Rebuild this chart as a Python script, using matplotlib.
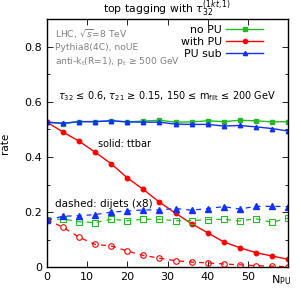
import matplotlib
matplotlib.use("Agg")
import matplotlib.pyplot as plt
from matplotlib.ticker import MultipleLocator

npu = [0, 4, 8, 12, 16, 20, 24, 28, 32, 36, 40, 44, 48, 52, 56, 60]

tt_nopu = [0.526, 0.521, 0.528, 0.528, 0.531, 0.527, 0.530, 0.533, 0.526, 0.527, 0.531, 0.528, 0.533, 0.531, 0.527, 0.528]
tt_withpu = [0.526, 0.490, 0.457, 0.417, 0.375, 0.324, 0.282, 0.236, 0.196, 0.158, 0.125, 0.092, 0.071, 0.053, 0.041, 0.029]
tt_pusub = [0.526, 0.522, 0.528, 0.528, 0.531, 0.527, 0.526, 0.526, 0.519, 0.518, 0.518, 0.512, 0.514, 0.509, 0.503, 0.494]

dj_nopu = [0.172, 0.175, 0.165, 0.162, 0.174, 0.169, 0.174, 0.174, 0.169, 0.169, 0.173, 0.174, 0.168, 0.176, 0.163, 0.178]
dj_withpu = [0.172, 0.145, 0.109, 0.083, 0.077, 0.059, 0.043, 0.033, 0.024, 0.019, 0.016, 0.012, 0.009, 0.006, 0.004, 0.002]
dj_pusub = [0.172, 0.185, 0.187, 0.191, 0.200, 0.204, 0.208, 0.208, 0.213, 0.207, 0.213, 0.220, 0.211, 0.221, 0.221, 0.220]

green = "#22bb22"
red = "#ff0000"
blue = "#1030ff"

fig = plt.figure(figsize=(3.01, 2.91), dpi=100)
ax = fig.add_axes([47/301, 1-267.3/291, (288-47)/301, (267.3-19)/291])

ms = 3.2
l1, = ax.plot(npu, tt_nopu, '-', color=green, marker='s', ms=ms, lw=1, label='no PU')
l2, = ax.plot(npu, tt_withpu, '-', color=red, marker='o', ms=ms, lw=1, label='with PU')
l3, = ax.plot(npu, tt_pusub, '-', color=blue, marker='^', ms=ms, lw=1, label='PU sub')
ax.plot(npu, dj_nopu, '--', color=green, marker='s', ms=4, mfc='none', mew=0.8, lw=0.9, dashes=(4, 4))
ax.plot(npu, dj_withpu, '--', color=red, marker='o', ms=4, mfc='none', mew=0.8, lw=0.9, dashes=(4, 4))
ax.plot(npu, dj_pusub, '--', color=blue, marker='^', ms=4.2, lw=0.9, dashes=(4, 4))

ax.set_xlim(0, 60)
ax.set_ylim(0, 0.9)
ax.set_xticks([0, 10, 20, 30, 40, 50])
ax.set_yticks([0, 0.2, 0.4, 0.6, 0.8])
ax.set_yticklabels(['0', '0.2', '0.4', '0.6', '0.8'])
ax.yaxis.set_minor_locator(MultipleLocator(0.1))
ax.tick_params(which='both', direction='in', top=True, right=True, labelsize=8, width=0.6)
ax.tick_params(which='major', length=4)
ax.tick_params(which='minor', length=2.5)
for s in ax.spines.values():
    s.set_linewidth(1.0)

ax.set_ylabel('rate', fontsize=7.5, labelpad=10)
ax.text(281, 291-280, r'N$_{\rm PU}$', transform=None, fontsize=8, ha='center', va='center')
fig.text(167/301, 1-13/291, r'top tagging with $\tau_{32}^{(1kt,1)}$', fontsize=7.8, ha='center', va='baseline')

gray = '#808080'
ax.text(0.035, 0.94, r'LHC, $\sqrt{s}$=8 TeV', transform=ax.transAxes, fontsize=6.6, color=gray, va='center')
ax.text(0.035, 0.885, 'Pythia8(4C), noUE', transform=ax.transAxes, fontsize=6.6, color=gray, va='center')
ax.text(0.035, 0.83, r'anti-k$_{\rm t}$(R=1), p$_{\rm t}$ ≥ 500 GeV', transform=ax.transAxes, fontsize=6.6, color=gray, va='center')

ax.text(0.5, 0.69, r'$\tau_{32}$ ≤ 0.6, $\tau_{21}$ ≥ 0.15, 150 ≤ m$_{\rm filt}$ ≤ 200 GeV', transform=ax.transAxes, fontsize=7, ha='center', va='center')
ax.text(0.21, 0.495, 'solid: ttbar', transform=ax.transAxes, fontsize=7, va='center')
ax.text(0.035, 0.255, 'dashed: dijets (x8)', transform=ax.transAxes, fontsize=7.5, va='center')

leg = ax.legend(handles=[l1, l2, l3], loc='upper right', bbox_to_anchor=(0.915, 0.995), frameon=False,
                fontsize=7.8, markerfirst=False, handlelength=3.4, labelspacing=0.2, handletextpad=0.4,
                borderaxespad=0.0)
for h in leg.legend_handles:
    h.set_markersize(3)

fig.savefig('out.png', dpi=100)
